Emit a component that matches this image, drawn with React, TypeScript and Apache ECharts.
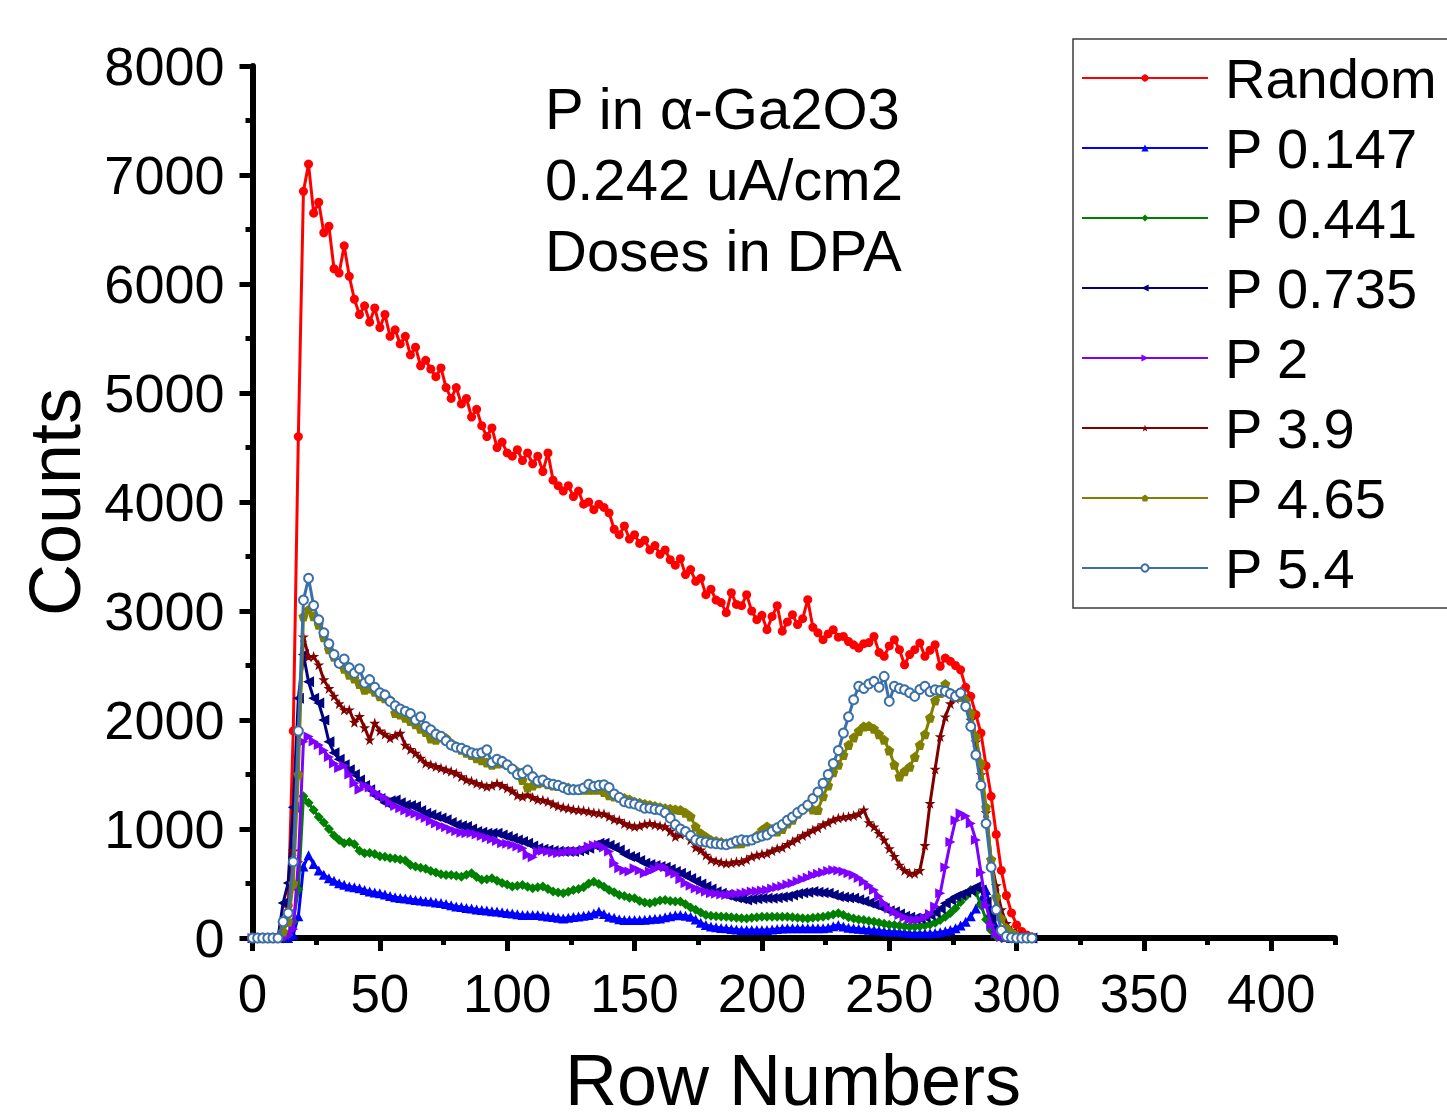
import React, { useEffect, useRef } from "react";
import * as echarts from "echarts";

const FONT = '"Liberation Sans", Arial, sans-serif';

// Row numbers sampled every 2 rows (0..306)
const ROWS = Array.from({ length: 154 }, (_, i) => i * 2);

const RANDOM = [
  0, 0, 0, 0, 0, 0, 30, 300, 1900, 4600,
  6850, 7100, 6650, 6750, 6470, 6530, 6140, 6100, 6350, 6070,
  5860, 5720, 5800, 5650, 5780, 5600, 5720, 5520, 5580, 5450,
  5520, 5350, 5420, 5250, 5300, 5220, 5150, 5230, 5050, 4950,
  5050, 4900, 4950, 4780, 4850, 4700, 4600, 4680, 4500, 4550,
  4450, 4420, 4480, 4380, 4450, 4350, 4420, 4280, 4450, 4200,
  4150, 4100, 4150, 4050, 4100, 3980, 4000, 3930, 3980, 3950,
  3900, 3750, 3700, 3780, 3660, 3700, 3620, 3650, 3560, 3600,
  3520, 3560, 3470, 3420, 3480, 3334, 3380, 3272, 3300, 3150,
  3200, 3100, 3077, 2985, 3168, 3060, 3049, 3150, 3000, 2920,
  2960, 2829, 2950, 3049, 2815, 2900, 2966, 2875, 2930, 3104,
  2850, 2800, 2737, 2790, 2829, 2760, 2767, 2720, 2690, 2660,
  2700, 2710, 2767, 2620, 2584, 2680, 2737, 2645, 2507, 2600,
  2645, 2706, 2584, 2640, 2691, 2492, 2568, 2538, 2500, 2460,
  2300, 2217, 2050, 1880, 1580, 1300, 950, 620, 390, 230,
  120, 60, 28, 10,
];

const P_0147 = [
  0, 0, 0, 0, 0, 0, 0, 0, 30, 199,
  655, 760, 680, 620, 580, 548, 525, 502, 488, 472,
  465, 456, 440, 426, 418, 410, 398, 385, 375, 368,
  362, 356, 349, 345, 338, 334, 326, 320, 312, 300,
  290, 285, 276, 270, 262, 257, 252, 246, 242, 236,
  230, 224, 218, 211, 211, 211, 210, 205, 198, 192,
  186, 180, 185, 192, 198, 205, 211, 225, 242, 220,
  196, 185, 172, 165, 165, 165, 165, 168, 172, 176,
  180, 190, 200, 208, 211, 205, 196, 170, 140, 119,
  105, 98, 92, 89, 82, 78, 74, 73, 73, 73,
  73, 73, 78, 83, 87, 89, 89, 89, 89, 89,
  89, 89, 89, 95, 108, 119, 105, 95, 89, 84,
  80, 76, 73, 68, 63, 60, 58, 54, 50, 46,
  43, 43, 43, 43, 45, 52, 62, 73, 90, 115,
  150, 200, 270, 349, 440, 250, 100, 40, 10, 0,
  0, 0, 0, 0,
];

const P_0441 = [
  0, 0, 0, 0, 0, 0, 0, 30, 150, 444,
  1300, 1240, 1175, 1110, 1060, 1000, 940, 900, 870, 880,
  860, 800, 778, 780, 770, 750, 745, 735, 730, 720,
  710, 670, 655, 645, 635, 615, 600, 585, 578, 578,
  570, 563, 580, 594, 560, 535, 540, 548, 525, 505,
  490, 472, 480, 487, 470, 456, 465, 472, 450, 426,
  418, 410, 425, 440, 450, 465, 500, 517, 495, 470,
  441, 420, 395, 385, 370, 365, 340, 325, 318, 330,
  345, 349, 340, 335, 334, 310, 280, 260, 235, 211,
  205, 200, 198, 196, 190, 185, 182, 180, 185, 190,
  195, 196, 196, 196, 196, 196, 190, 185, 182, 180,
  185, 190, 196, 205, 215, 226, 210, 190, 180, 170,
  165, 155, 150, 140, 130, 122, 119, 112, 108, 104,
  104, 108, 115, 125, 140, 165, 196, 230, 272, 330,
  380, 441, 420, 300, 170, 70, 15, 0, 0, 0,
  0, 0, 0, 0,
];

const P_0735 = [
  0, 0, 0, 0, 0, 0, 320, 505, 1200, 2200,
  2600, 2350, 2200, 2155, 2000, 1800, 1700, 1640, 1590, 1543,
  1500, 1450, 1400, 1360, 1310, 1280, 1240, 1260, 1267, 1240,
  1221, 1215, 1206, 1170, 1145, 1130, 1114, 1100, 1084, 1060,
  1040, 1030, 1023, 1000, 977, 970, 962, 962, 962, 945,
  931, 915, 900, 885, 870, 845, 824, 815, 808, 800,
  795, 793, 793, 793, 800, 810, 824, 850, 870, 870,
  850, 830, 808, 770, 747, 740, 710, 686, 675, 665,
  655, 650, 630, 610, 594, 570, 545, 520, 495, 472,
  450, 425, 410, 395, 380, 370, 360, 349, 355, 360,
  364, 364, 364, 370, 376, 380, 395, 405, 415, 420,
  426, 420, 415, 410, 395, 380, 375, 370, 364, 350,
  338, 320, 305, 288, 270, 250, 240, 220, 200, 190,
  182, 180, 190, 210, 235, 270, 318, 350, 380, 400,
  420, 435, 470, 441, 330, 200, 60, 10, 0, 0,
  0, 0, 0, 0,
];

const P_2 = [
  0, 0, 0, 0, 0, 0, 0, 20, 80, 700,
  1800, 1849, 1803, 1770, 1720, 1660, 1600, 1560, 1580, 1500,
  1420, 1359, 1400, 1380, 1340, 1310, 1290, 1240, 1210, 1190,
  1170, 1150, 1140, 1120, 1100, 1070, 1050, 1030, 1015, 995,
  980, 965, 962, 960, 950, 935, 920, 905, 890, 870,
  865, 855, 840, 824, 760, 740, 793, 800, 793, 785,
  778, 785, 793, 795, 793, 810, 839, 850, 855, 830,
  793, 686, 640, 620, 609, 640, 620, 594, 610, 630,
  655, 650, 600, 590, 540, 502, 480, 455, 441, 425,
  410, 405, 400, 395, 400, 405, 410, 418, 426, 430,
  436, 441, 455, 465, 475, 490, 502, 520, 540, 555,
  575, 590, 600, 615, 624, 620, 609, 595, 578, 550,
  517, 480, 441, 380, 318, 270, 240, 210, 190, 170,
  165, 170, 185, 220, 290, 410, 650, 880, 1080, 1145,
  1120, 1050, 900, 600, 300, 120, 40, 10, 0, 0,
  0, 0, 0, 0,
];

const P_39 = [
  0, 0, 0, 0, 0, 0, 100, 250, 800, 1900,
  2764, 2583, 2583, 2507, 2370, 2290, 2220, 2150, 2094, 2094,
  1980, 2033, 1930, 1818, 1972, 1900, 1870, 1834, 1860, 1880,
  1770, 1730, 1696, 1650, 1604, 1590, 1574, 1560, 1543, 1530,
  1512, 1480, 1451, 1440, 1420, 1405, 1390, 1400, 1420, 1400,
  1375, 1350, 1310, 1298, 1313, 1290, 1270, 1265, 1252, 1230,
  1210, 1200, 1191, 1180, 1175, 1170, 1160, 1150, 1145, 1140,
  1114, 1090, 1080, 1050, 1035, 1023, 1030, 1045, 1053, 1040,
  1030, 1023, 980, 931, 950, 962, 900, 830, 808, 760,
  720, 705, 695, 686, 690, 700, 701, 720, 747, 760,
  770, 778, 800, 820, 830, 860, 885, 910, 940, 962,
  990, 1010, 1040, 1060, 1084, 1100, 1110, 1114, 1125, 1140,
  1175, 1060, 1020, 960, 900, 820, 750, 670, 620, 594,
  594, 620, 850, 1236, 1550, 1849, 2030, 2150, 2200, 2260,
  2200, 2000, 1800, 1500, 1150, 716, 480, 260, 135, 70,
  40, 20, 5, 0,
];

const P_465 = [
  0, 0, 0, 0, 0, 0, 60, 150, 500, 1500,
  2950, 3012, 2951, 2875, 2760, 2650, 2580, 2523, 2470, 2415,
  2380, 2330, 2278, 2290, 2260, 2217, 2200, 2186, 2064, 2050,
  2020, 1990, 1960, 1920, 1890, 1830, 1818, 1840, 1834, 1790,
  1760, 1726, 1700, 1680, 1650, 1630, 1610, 1589, 1600, 1604,
  1590, 1550, 1528, 1450, 1380, 1400, 1420, 1430, 1410, 1400,
  1395, 1390, 1380, 1370, 1360, 1360, 1360, 1360, 1359, 1340,
  1310, 1298, 1290, 1285, 1270, 1250, 1240, 1230, 1221, 1210,
  1200, 1191, 1185, 1180, 1175, 1150, 1114, 1020, 962, 930,
  900, 890, 880, 870, 870, 868, 870, 885, 900, 940,
  990, 1023, 1000, 977, 1000, 1050, 1084, 1140, 1190, 1206,
  1180, 1175, 1300, 1400, 1520, 1590, 1680, 1770, 1840, 1900,
  1941, 1945, 1920, 1870, 1818, 1720, 1590, 1482, 1530, 1570,
  1660, 1770, 1870, 2020, 2180, 2248, 2330, 2250, 2217, 2210,
  2186, 2064, 1849, 1604, 1200, 720, 380, 180, 90, 50,
  20, 5, 0, 0,
];

const P_54 = [
  0, 0, 0, 0, 0, 0, 150, 230, 700, 1900,
  3100, 3300, 3050, 2920, 2800, 2700, 2600, 2520, 2560, 2480,
  2430, 2470, 2340, 2370, 2300, 2250, 2230, 2170, 2130, 2100,
  2080, 2060, 2000, 2030, 1940, 1910, 1870, 1850, 1810, 1770,
  1750, 1740, 1720, 1700, 1690, 1700, 1726, 1610, 1640, 1620,
  1590, 1550, 1500, 1510, 1540, 1480, 1440, 1450, 1420, 1410,
  1400, 1380, 1360, 1360, 1360, 1375, 1410, 1390, 1400, 1405,
  1380, 1320, 1290, 1250, 1236, 1230, 1210, 1190, 1190, 1180,
  1175, 1150, 1100, 1040, 1000, 977, 940, 900, 885, 880,
  870, 865, 860, 855, 870, 890, 900, 895, 900, 920,
  935, 946, 980, 1010, 1040, 1080, 1110, 1150, 1180, 1220,
  1280, 1340, 1420, 1500, 1600, 1720, 1880, 2030, 2186, 2309,
  2290, 2330, 2354, 2300, 2400, 2171, 2309, 2290, 2278, 2250,
  2217, 2280, 2309, 2260, 2278, 2270, 2263, 2240, 2217, 2248,
  2125, 1941, 1680, 1400, 1050, 650, 260, 70, 15, 5,
  0, 0, 0, 0,
];

const SERIES_NAMES = ["Random", "P 0.147", "P 0.441", "P 0.735", "P 2", "P 3.9", "P 4.65", "P 5.4"];
const SERIES_VALUES = [RANDOM, P_0147, P_0441, P_0735, P_2, P_39, P_465, P_54];
const SERIES_COLORS = ["#FF0000", "#0000FF", "#008000", "#000080", "#8000FF", "#800000", "#808000", "#3B6FA8"];
const SERIES_SYMBOLS = [
  "circle",
  "triangle",
  "diamond",
  "path://M0,5 L10,0 L10,10 Z",
  "path://M10,5 L0,0 L0,10 Z",
  "path://M5,0 L6.2,3.6 L10,3.6 L6.9,5.9 L8.1,9.5 L5,7.3 L1.9,9.5 L3.1,5.9 L0,3.6 L3.8,3.6 Z",
  "path://M5,0 L10,3.8 L8.1,10 L1.9,10 L0,3.8 Z",
  "emptyCircle",
];
const SERIES_SYMBOL_SIZES = [9, 10, 10, 11, 10, 11, 10, 9];

const X_MAJOR = [0, 50, 100, 150, 200, 250, 300, 350, 400];
const X_MINOR = [25, 75, 125, 175, 225, 275, 325, 375, 425];

const NOTE_LINES = ["P in \u03b1-Ga2O3", "0.242 uA/cm2", "Doses in DPA"];
const X_TITLE = "Row Numbers";
const Y_TITLE = "Counts";

export default function App() {
  const ref = useRef<HTMLDivElement>(null);

  useEffect(() => {
    document.body.style.margin = "0";
    if (!ref.current) return;
    const chart = echarts.init(ref.current, null, { renderer: "svg" });

    const series = SERIES_NAMES.map((name, k) => ({
      name,
      type: "line",
      xAxisIndex: 0,
      yAxisIndex: 0,
      data: ROWS.map((r, i) => [r, SERIES_VALUES[k][i]]),
      symbol: SERIES_SYMBOLS[k],
      symbolSize: SERIES_SYMBOL_SIZES[k],
      showSymbol: true,
      lineStyle: { width: 3, color: SERIES_COLORS[k] },
      itemStyle: { color: SERIES_COLORS[k], borderWidth: k === 7 ? 2.5 : 0 },
      emphasis: { disabled: true },
      z: 2 + k,
    }));

    const noteGraphics = NOTE_LINES.map((t, i) => ({
      type: "text",
      x: 545,
      y: 108 + i * 71,
      style: {
        text: t,
        font: `58px ${FONT}`,
        fill: "#000",
        textAlign: "left",
        textVerticalAlign: "middle",
      },
    }));

    chart.setOption({
      animation: false,
      backgroundColor: "#ffffff",
      grid: { left: 252.5, right: 112, top: 66, bottom: 182, outerBoundsMode: "none" },
      xAxis: [
        {
          type: "value",
          min: 0,
          max: 425,
          position: "bottom",
          axisLine: { show: true, onZero: false, lineStyle: { color: "#000", width: 6 } },
          axisTick: { show: true, inside: false, length: 13, lineStyle: { color: "#000", width: 5 }, customValues: X_MAJOR },
          axisLabel: { show: true, customValues: X_MAJOR, fontSize: 53, fontFamily: FONT, color: "#000", margin: 29 },
          splitLine: { show: false },
        },
        {
          type: "value",
          min: 0,
          max: 425,
          position: "bottom",
          axisLine: { show: false },
          axisTick: { show: true, inside: false, length: 7, lineStyle: { color: "#000", width: 5 }, customValues: X_MINOR },
          axisLabel: { show: false },
          splitLine: { show: false },
        },
      ],
      yAxis: {
        type: "value",
        min: 0,
        max: 8000,
        interval: 1000,
        axisLine: { show: true, onZero: false, lineStyle: { color: "#000", width: 6 } },
        axisTick: { show: true, inside: false, length: 13, lineStyle: { color: "#000", width: 5 } },
        minorTick: { show: true, splitNumber: 2, length: 7, lineStyle: { color: "#000", width: 5 } },
        axisLabel: {
          fontSize: 54,
          fontFamily: FONT,
          color: "#000",
          margin: 28,
          formatter: (v: number) => String(v),
        },
        splitLine: { show: false },
        minorSplitLine: { show: false },
      },
      legend: {
        orient: "vertical",
        left: 1081,
        top: 43,
        padding: 0,
        itemGap: 0,
        itemWidth: 126,
        itemHeight: 9,
        selectedMode: false,
        data: SERIES_NAMES,
        textStyle: { fontSize: 56, fontFamily: FONT, color: "#000", lineHeight: 70, padding: [0, 0, 0, 12] },
      },
      graphic: [
        {
          type: "rect",
          shape: { x: 1073, y: 39, width: 420, height: 569 },
          style: { fill: "none", stroke: "#3c3c3c", lineWidth: 1.5 },
          z: 1,
        },
        ...noteGraphics,
        {
          type: "text",
          x: 793,
          y: 1080,
          style: { text: X_TITLE, font: `72px ${FONT}`, fill: "#000", textAlign: "center", textVerticalAlign: "middle" },
        },
        {
          type: "text",
          x: 55,
          y: 502,
          rotation: Math.PI / 2,
          style: { text: Y_TITLE, font: `72px ${FONT}`, fill: "#000", textAlign: "center", textVerticalAlign: "middle" },
        },
      ],
      series,
    });

    return () => chart.dispose();
  }, []);

  return <div ref={ref} style={{ width: "1447px", height: "1120px" }} />;
}
